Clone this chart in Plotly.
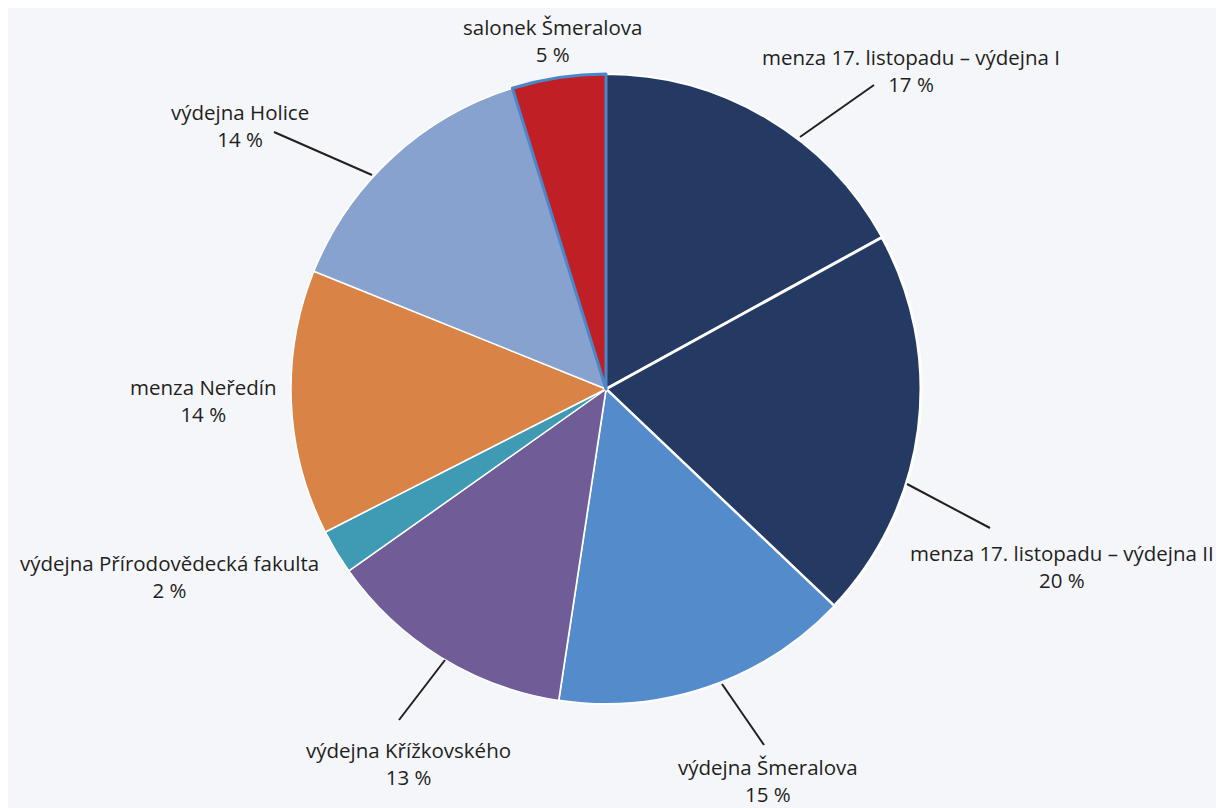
import plotly.graph_objects as go

labels = [
    "menza 17. listopadu – výdejna I",
    "menza 17. listopadu – výdejna II",
    "výdejna Šmeralova",
    "výdejna Křížkovského",
    "výdejna Přírodovědecká fakulta",
    "menza Neředín",
    "výdejna Holice",
    "salonek Šmeralova",
]
values = [17.0, 20.1, 15.3, 12.8, 2.3, 13.6, 14.1, 4.8]
shown_pct = [17, 20, 15, 13, 2, 14, 14, 5]
colors = ["#243A63", "#243A63", "#548BCB", "#705C97", "#3F9BB3", "#D98346", "#87A2CE", "#C01F26"]
line_colors = ["white", "white", "white", "white", "white", "white", "white", "#4A86C8"]
line_widths = [2, 3, 2, 1.5, 1.5, 1.5, 1.5, 3]

# page body has an 8px margin; figure sized to fit the window
OFF = 8
W, H = 1224 - OFF, 808 - OFF
def px(x):
    return (x - OFF) / W
def py(y):
    return 1 - (y - OFF) / H

# label centre positions (window pixels) and leader lines (window pixels)
label_pos = [(911, 70), (1062, 566), (768, 780), (408, 763), (169, 576), (203, 400), (240, 125), (553, 40)]
leaders = [((800, 137), (874, 85)), ((907, 484), (990, 528)), ((722, 684), (764, 745)),
           ((445, 660), (399, 720)), None, None, ((274, 132), (372, 175)), None]

cx, cy, r = 606, 389, 315

fig = go.Figure(go.Pie(
    labels=labels, values=values, sort=False, direction="clockwise", rotation=0,
    marker=dict(colors=colors, line=dict(color=line_colors, width=line_widths)),
    textinfo="none", hoverinfo="label+percent", showlegend=False,
    domain=dict(x=[px(cx - r), px(cx + r)], y=[py(cy + r), py(cy - r)]),
))

font = dict(family="Open Sans, Noto Sans, sans-serif", size=20.5, color="#231F20")
for lab, pct, (lx, ly) in zip(labels, shown_pct, label_pos):
    fig.add_annotation(x=px(lx), y=py(ly), xref="paper", yref="paper",
                       text=f"{lab}<br>{pct} %", showarrow=False, font=font,
                       align="center", xanchor="center", yanchor="middle")
for ld in leaders:
    if ld is None:
        continue
    (x0, y0), (x1, y1) = ld
    fig.add_shape(type="line", xref="paper", yref="paper",
                  x0=px(x0), y0=py(y0), x1=px(x1), y1=py(y1),
                  line=dict(color="#231F20", width=2))

fig.update_layout(width=W, height=H, margin=dict(l=0, r=0, t=0, b=0),
                  paper_bgcolor="#F5F6FA", plot_bgcolor="#F5F6FA")
fig.write_html("out.html")
